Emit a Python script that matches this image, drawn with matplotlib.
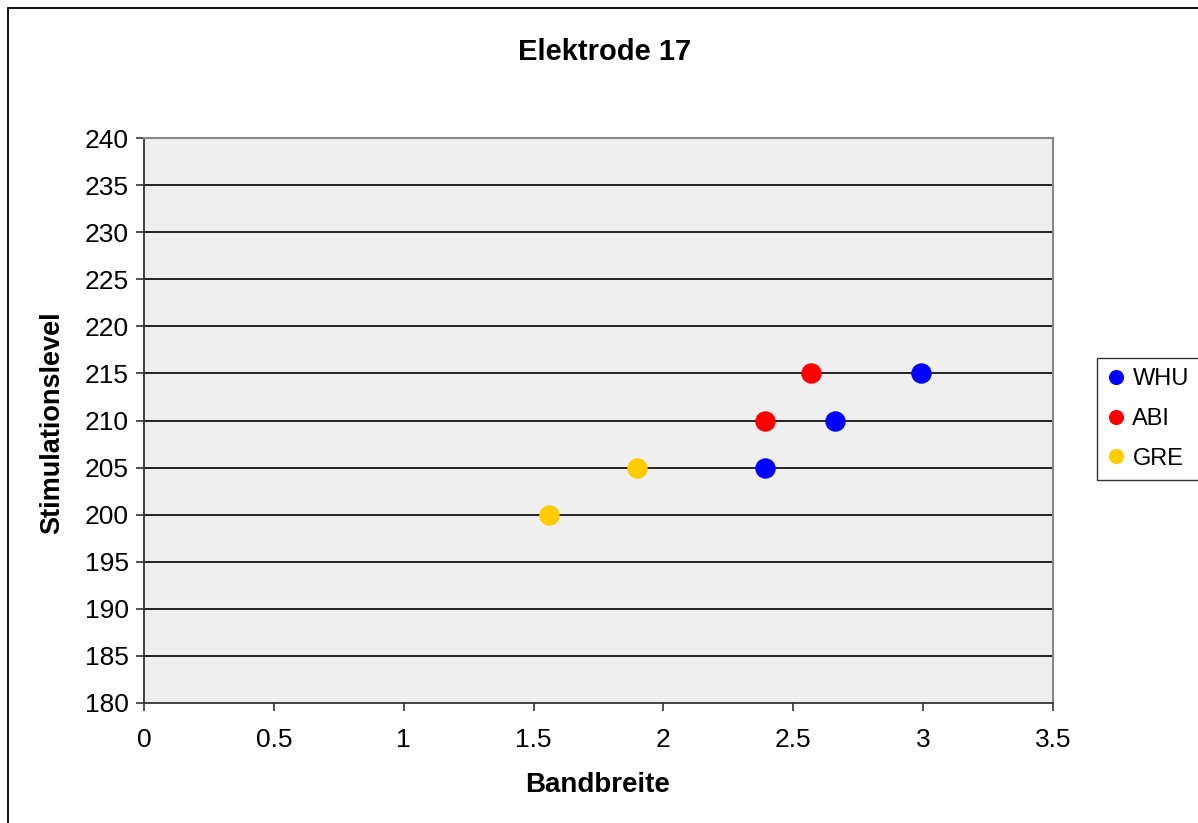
import matplotlib.pyplot as plt
from matplotlib.patches import Rectangle

plt.rcParams['font.family'] = ['Liberation Sans', 'DejaVu Sans']

# Bandbreite / Stimulationslevel je Proband
whu_x = [2.39, 2.66, 2.99]
whu_y = [205, 210, 215]
abi_x = [2.39, 2.57]
abi_y = [210, 215]
gre_x = [1.56, 1.90]
gre_y = [200, 205]

x_ticks = [0, 0.5, 1, 1.5, 2, 2.5, 3, 3.5]
y_ticks = list(range(180, 241, 5))

fig = plt.figure(figsize=(11.98, 8.23), dpi=100)
ax = fig.add_axes([144/1198, 1 - 703/823, (1053 - 144)/1198, (703 - 138)/823])
ax.set_facecolor('#efefef')

# outer chart frame (only top and left edges visible)
fig.patches.append(Rectangle((8/1198, -0.1), 1.2, 1 - 8/823 + 0.1, transform=fig.transFigure,
                             fill=False, edgecolor='black', linewidth=1.3))

for yv in y_ticks[1:-1]:
    ax.axhline(yv, color='black', linewidth=1.2, zorder=1)

ms = 13.7
ax.plot(whu_x, whu_y, 'o', color='#0000ff', markersize=ms, label='WHU', zorder=3)
ax.plot(abi_x, abi_y, 'o', color='#ff0000', markersize=ms, label='ABI', zorder=3)
ax.plot(gre_x, gre_y, 'o', color='#ffcc00', markersize=ms, label='GRE', zorder=3)

ax.set_xlim(0, 3.5)
ax.set_ylim(180, 240)
ax.set_xticks(x_ticks)
ax.set_xticklabels([f'{v:g}' for v in x_ticks])
ax.set_yticks(y_ticks)
ax.tick_params(axis='both', labelsize=19, length=6, width=1.2, direction='out', colors='#333333',
               labelcolor='black')
ax.tick_params(axis='x', pad=12)
ax.tick_params(axis='y', pad=5)

for s in ['top', 'right']:
    ax.spines[s].set_color('#888888')
    ax.spines[s].set_linewidth(1.5)
for s in ['left', 'bottom']:
    ax.spines[s].set_color('#333333')
    ax.spines[s].set_linewidth(1.3)

fig.text(605/1198, 1 - 52/823, 'Elektrode 17', ha='center', va='center', fontsize=21, fontweight='bold')
fig.text(598/1198, 1 - 785/823, 'Bandbreite', ha='center', va='center', fontsize=20, fontweight='bold')
fig.text(52/1198, 1 - 423/823, 'Stimulationslevel', ha='center', va='center', rotation=90,
         fontsize=19.5, fontweight='bold')

leg = fig.legend(loc='center left', bbox_to_anchor=(1097/1198, 1 - 419/823), borderaxespad=0,
                 fontsize=17, frameon=True, fancybox=False, edgecolor='black', handletextpad=0.35,
                 handlelength=0.7, borderpad=0.45, labelspacing=0.75, markerscale=0.72)
leg.get_frame().set_linewidth(1.0)

fig.savefig('out.png', dpi=100, facecolor='white')
